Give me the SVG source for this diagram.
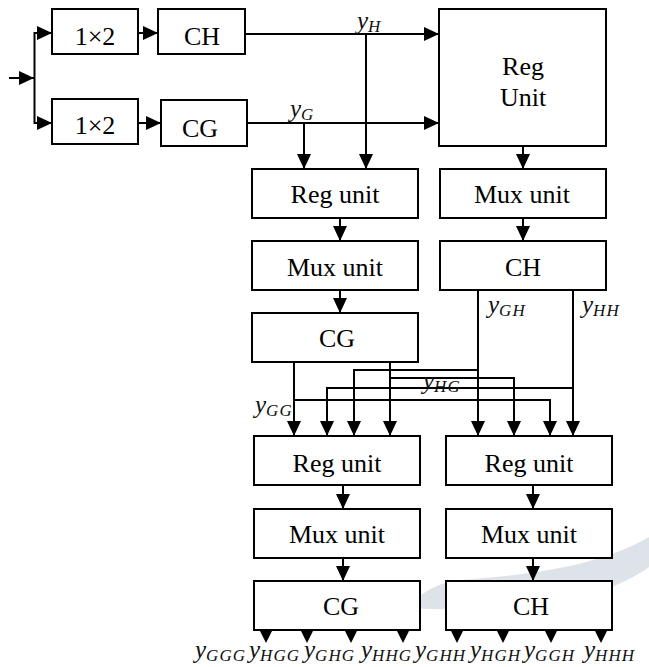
<svg xmlns="http://www.w3.org/2000/svg" width="649" height="667" viewBox="0 0 649 667">
<style>
.box{fill:#fff;stroke:#000;stroke-width:2}
.t{font-family:"Liberation Serif","Times New Roman",serif;font-size:26px;fill:#000;text-anchor:middle}
.ln{fill:none;stroke:#000;stroke-width:2}
.ar{marker-end:url(#ah)}
.tri{fill:#000}
.m{font-family:"Liberation Serif","Times New Roman",serif;font-style:italic;font-size:25px;fill:#111}
.s{font-size:17px;letter-spacing:1px}
</style>
<defs>
<marker id="ah" markerUnits="userSpaceOnUse" markerWidth="15" markerHeight="14" viewBox="0 0 15 14" refX="15" refY="7" orient="auto">
<path d="M0,0 L15,7 L0,14 Z" fill="#000"/>
</marker>
</defs>
<path id="watermark" d="M405,608 C425,590 440,582 460,580 C540,574 600,565 649,537 L649,567 C620,588 560,612 470,610 C440,609 420,609 405,608 Z" fill="#dde3e8"/>
<g id="connectors">
<path class="ln ar" d="M9,78 L34,78"/>
<path class="ln" d="M34.5,32 L34.5,124"/>
<path class="ln ar" d="M34,33 L52,33"/>
<path class="ln ar" d="M34,123 L52,123"/>
<path class="ln ar" d="M138,33 L158,33"/>
<path class="ln ar" d="M138,123 L161,123"/>
<path class="ln ar" d="M245,34 L439,34"/>
<path class="ln ar" d="M247,123 L439,123"/>
<path class="ln ar" d="M366,34 L366,169"/>
<path class="ln ar" d="M304,123 L304,169"/>
<path class="ln ar" d="M523,146 L523,169"/>
<path class="ln ar" d="M523,218 L523,241"/>
<path class="ln ar" d="M340,218 L340,241"/>
<path class="ln ar" d="M340,290 L340,313"/>
<path class="ln ar" d="M294,362 L294,436"/>
<path class="ln ar" d="M294,400 L550,400 L550,436"/>
<path class="ln ar" d="M390,362 L390,436"/>
<path class="ln ar" d="M390,378 L514,378 L514,436"/>
<path class="ln ar" d="M478,290 L478,436"/>
<path class="ln ar" d="M478,370 L354,370 L354,436"/>
<path class="ln ar" d="M573,290 L573,436"/>
<path class="ln ar" d="M573,388 L327,388 L327,436"/>
<path class="ln ar" d="M343,485 L343,509"/>
<path class="ln ar" d="M343,558 L343,581"/>
<path class="ln ar" d="M533,485 L533,509"/>
<path class="ln ar" d="M533,558 L533,581"/>
<polygon class="tri" points="259.5,630 272.5,630 266,643"/>
<polygon class="tri" points="300.5,630 313.5,630 307,643"/>
<polygon class="tri" points="344.5,630 357.5,630 351,643"/>
<polygon class="tri" points="396.5,630 409.5,630 403,643"/>
<polygon class="tri" points="450.5,630 463.5,630 457,643"/>
<polygon class="tri" points="496.5,630 509.5,630 503,643"/>
<polygon class="tri" points="544.5,630 557.5,630 551,643"/>
<polygon class="tri" points="594.5,630 607.5,630 601,643"/>
</g>
<g id="split1"><rect class="box" x="52" y="9" width="86" height="45"/><text class="t" x="95" y="45">1×2</text></g>
<g id="split2"><rect class="box" x="52" y="99" width="86" height="45"/><text class="t" x="95" y="134">1×2</text></g>
<g id="ch1"><rect class="box" x="158" y="9" width="87" height="45"/><text class="t" x="202" y="45">CH</text></g>
<g id="cg1"><rect class="box" x="161" y="100" width="86" height="46"/><text class="t" x="200" y="137">CG</text></g>
<g id="regbig"><rect class="box" x="439" y="9" width="167" height="137"/><text class="t" x="523" y="75">Reg</text><text class="t" x="523" y="106">Unit</text></g>
<g id="reg2"><rect class="box" x="252" y="169" width="166" height="49"/><text class="t" x="335" y="203">Reg unit</text></g>
<g id="mux2"><rect class="box" x="252" y="241" width="166" height="49"/><text class="t" x="335" y="276">Mux unit</text></g>
<g id="cg2"><rect class="box" x="252" y="313" width="166" height="49"/><text class="t" x="337" y="347">CG</text></g>
<g id="mux3"><rect class="box" x="440" y="169" width="166" height="49"/><text class="t" x="522" y="203">Mux unit</text></g>
<g id="ch3"><rect class="box" x="440" y="241" width="166" height="49"/><text class="t" x="523" y="276">CH</text></g>
<g id="reg4"><rect class="box" x="254" y="436" width="166" height="49"/><text class="t" x="337" y="472">Reg unit</text></g>
<g id="mux4"><rect class="box" x="254" y="509" width="166" height="49"/><text class="t" x="337" y="543">Mux unit</text></g>
<g id="cg4"><rect class="box" x="254" y="581" width="166" height="49"/><text class="t" x="341" y="615">CG</text></g>
<g id="reg5"><rect class="box" x="446" y="436" width="166" height="49"/><text class="t" x="529" y="472">Reg unit</text></g>
<g id="mux5"><rect class="box" x="446" y="509" width="166" height="49"/><text class="t" x="529" y="543">Mux unit</text></g>
<g id="ch5"><rect class="box" x="446" y="581" width="166" height="49"/><text class="t" x="531" y="615">CH</text></g>
<g id="labels">
<text class="m" x="357" y="29">y<tspan class="s" dy="3">H</tspan></text>
<text class="m" x="290" y="117">y<tspan class="s" dy="3">G</tspan></text>
<text class="m" x="488" y="313">y<tspan class="s" dy="3">GH</tspan></text>
<text class="m" x="582" y="313">y<tspan class="s" dy="3">HH</tspan></text>
<text class="m" x="423" y="389">y<tspan class="s" dy="3">HG</tspan></text>
<text class="m" x="255" y="413">y<tspan class="s" dy="3">GG</tspan></text>
<text class="m" x="195" y="658">y<tspan class="s" dy="3">GGG</tspan></text>
<text class="m" x="249" y="658">y<tspan class="s" dy="3">HGG</tspan></text>
<text class="m" x="304" y="658">y<tspan class="s" dy="3">GHG</tspan></text>
<text class="m" x="361" y="658">y<tspan class="s" dy="3">HHG</tspan></text>
<text class="m" x="415" y="658">y<tspan class="s" dy="3">GHH</tspan></text>
<text class="m" x="470" y="658">y<tspan class="s" dy="3">HGH</tspan></text>
<text class="m" x="524" y="658">y<tspan class="s" dy="3">GGH</tspan></text>
<text class="m" x="584" y="658">y<tspan class="s" dy="3">HHH</tspan></text>
</g>
</svg>
